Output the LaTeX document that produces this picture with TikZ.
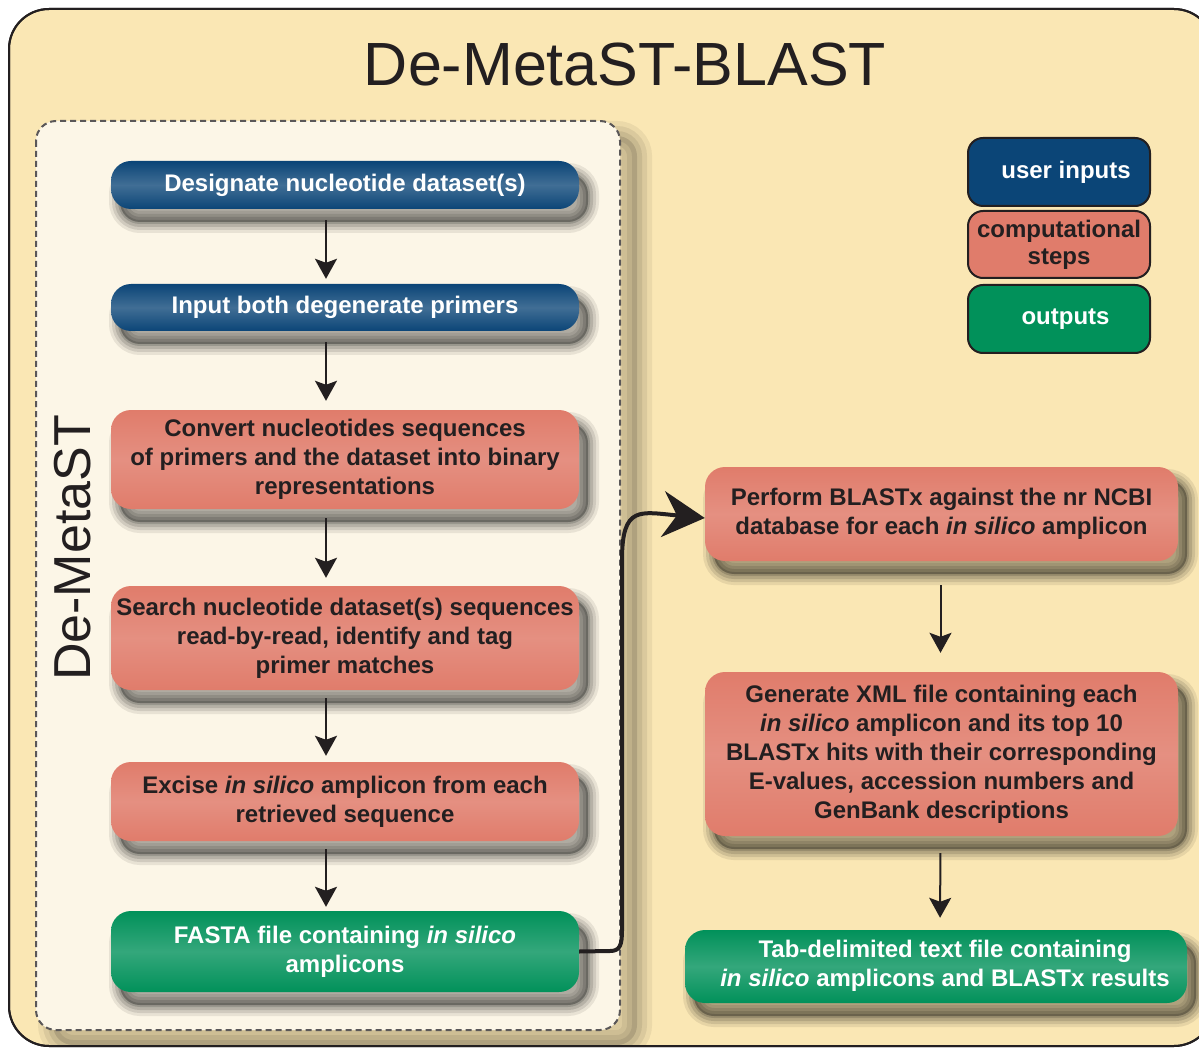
\documentclass[tikz,border=0pt]{standalone}
\usepackage{fontspec}
\setmainfont{Liberation Sans}
\usetikzlibrary{arrows.meta}
\definecolor{outerbg}{HTML}{FAE7B4}
\definecolor{innerbg}{HTML}{FCF6E7}
\definecolor{userblue}{HTML}{0B4577}
\definecolor{compsalmon}{HTML}{E07C6B}
\definecolor{outgreen}{HTML}{01915A}
\definecolor{darktext}{HTML}{231F20}
\tikzset{
  shoff/.style={transform canvas={xshift=9pt,yshift=-13pt}},
  softshadow/.style={
    preaction={fill=black, opacity=0.30, shoff},
    preaction={draw=black, line width=4pt, opacity=0.15, shoff},
    preaction={draw=black, line width=10pt, opacity=0.12, shoff},
    preaction={draw=black, line width=16pt, opacity=0.10, shoff},
    preaction={draw=black, line width=22pt, opacity=0.08, shoff}},
  panoff/.style={transform canvas={xshift=17pt,yshift=-15pt}},
  panelshadow/.style={
    preaction={fill=black, opacity=0.12, panoff},
    preaction={draw=black, line width=10pt, opacity=0.08, panoff},
    preaction={draw=black, line width=20pt, opacity=0.07, panoff},
    preaction={draw=black, line width=30pt, opacity=0.06, panoff}},
  boxbase/.style={rounded corners=20pt, align=center, inner sep=0pt,
    font=\fontsize{24}{29}\selectfont\bfseries, softshadow},
  userbox/.style={boxbase, text=white, top color=userblue, bottom color=userblue, middle color=userblue!78!white},
  compbox/.style={boxbase, text=darktext, top color=compsalmon, bottom color=compsalmon, middle color=compsalmon!85!white},
  outbox/.style={boxbase, text=white, top color=outgreen, bottom color=outgreen, middle color=outgreen!80!white},
  legbox/.style={rounded corners=15pt, draw=darktext, line width=2pt, align=center, inner sep=0pt,
    minimum width=182pt, font=\fontsize{24}{27}\selectfont\bfseries},
  arr/.style={line width=2pt, draw=darktext, -{Stealth[length=20pt,width=22pt,inset=4pt]}},
  bigarr/.style={line width=4pt, draw=darktext, -{Stealth[length=42pt,width=46pt,inset=14pt]}},
}
\begin{document}
\begin{tikzpicture}[x=1pt,y=-1pt]
\useasboundingbox (0,0) rectangle (1199,1048);
\clip (0,0) rectangle (1199,1048);
% outer panel
\draw[fill=outerbg, draw=darktext, line width=2pt, rounded corners=40pt] (9,9) rectangle (1214,1046);
\node[font=\fontsize{61}{70}\selectfont, text=darktext] (title) at (625,65) {De-MetaST-BLAST};
% inner dashed panel
\begin{scope}
\clip[rounded corners=40pt] (9,9) rectangle (1214,1046);
\draw[panelshadow, fill=innerbg, draw=darktext!75, line width=2pt, dash pattern=on 6pt off 4pt, rounded corners=20pt] (36,121) rectangle (620,1030);
\end{scope}
\draw[draw=darktext, line width=2pt, rounded corners=40pt] (9,9) rectangle (1214,1046);
\node[rotate=90, font=\fontsize{52}{60}\selectfont, text=darktext] (side) at (73,548) {De-MetaST};
% left column
\node[userbox, minimum width=468pt, minimum height=48pt] (n1) at (345,185) {Designate nucleotide dataset(s)};
\node[userbox, minimum width=468pt, minimum height=47pt] (n2) at (345,307.5) {Input both degenerate primers};
\node[compbox, minimum width=468pt, minimum height=99pt] (n3) at (345,459.5) {Convert nucleotides sequences\\of primers and the dataset into binary\\representations};
\node[compbox, minimum width=468pt, minimum height=104pt] (n4) at (345,638) {Search nucleotide dataset(s) sequences\\read-by-read, identify and tag\\primer matches};
\node[compbox, minimum width=468pt, minimum height=79pt] (n5) at (345,801.5) {Excise \textit{in silico} amplicon from each\\retrieved sequence};
\node[outbox, minimum width=468pt, minimum height=81pt] (n6) at (345,951.5) {FASTA file containing \textit{in silico}\\amplicons};
% right column
\node[compbox, minimum width=473pt, minimum height=94pt] (n7) at (941.5,514) {Perform BLASTx against the nr NCBI\\database for each \textit{in silico} amplicon};
\node[compbox, minimum width=473pt, minimum height=164pt] (n8) at (941.5,754) {Generate XML file containing each\\\textit{in silico} amplicon and its top 10\\BLASTx hits with their corresponding\\E-values, accession numbers and\\GenBank descriptions};
\node[outbox, minimum width=502pt, minimum height=73pt] (n9) at (936,966.5) {\hspace*{18pt}\begin{tabular}{@{}c@{}}Tab-delimited text file containing\\\textit{in silico} amplicons and BLASTx results\end{tabular}};
% legend
\node[legbox, fill=userblue, text=white, minimum height=68pt] (l1) at (1059,172) {\hspace*{14pt}user inputs};
\node[legbox, fill=compsalmon, text=darktext, minimum height=67pt] (l2) at (1059,244.5) {computational\\steps};
\node[legbox, fill=outgreen, text=white, minimum height=68pt] (l3) at (1059,319) {\hspace*{13pt}outputs};
% arrows
\draw[arr, shorten <=11pt, shorten >=5pt] ([xshift=-19pt]n1.south) -- ([xshift=-19pt]n2.north);
\draw[arr, shorten <=11pt, shorten >=9pt] ([xshift=-19pt]n2.south) -- ([xshift=-19pt]n3.north);
\draw[arr, shorten <=9pt, shorten >=8pt] ([xshift=-19pt]n3.south) -- ([xshift=-19pt]n4.north);
\draw[arr, shorten <=8pt, shorten >=6pt] ([xshift=-19pt]n4.south) -- ([xshift=-19pt]n5.north);
\draw[arr, shorten <=8pt, shorten >=4pt] ([xshift=-19pt]n5.south) -- ([xshift=-19pt]n6.north);
\draw[arr, shorten <=24pt, shorten >=19pt] ([xshift=-1pt]n7.south) -- ([xshift=-1pt]n8.north);
\draw[arr, shorten <=17pt, shorten >=12pt] ([xshift=-1pt]n8.south) -- ([xshift=4pt]n9.north);
\coordinate (c1) at (610,951);
\coordinate (c2) at (622,560);
\draw[bigarr] (n6.east) -- (c1) .. controls (620,951) and (622,945) .. (622,930) -- (c2) .. controls (622,505) and (640,512) .. ([yshift=-4pt]n7.west);
\end{tikzpicture}
\end{document}
